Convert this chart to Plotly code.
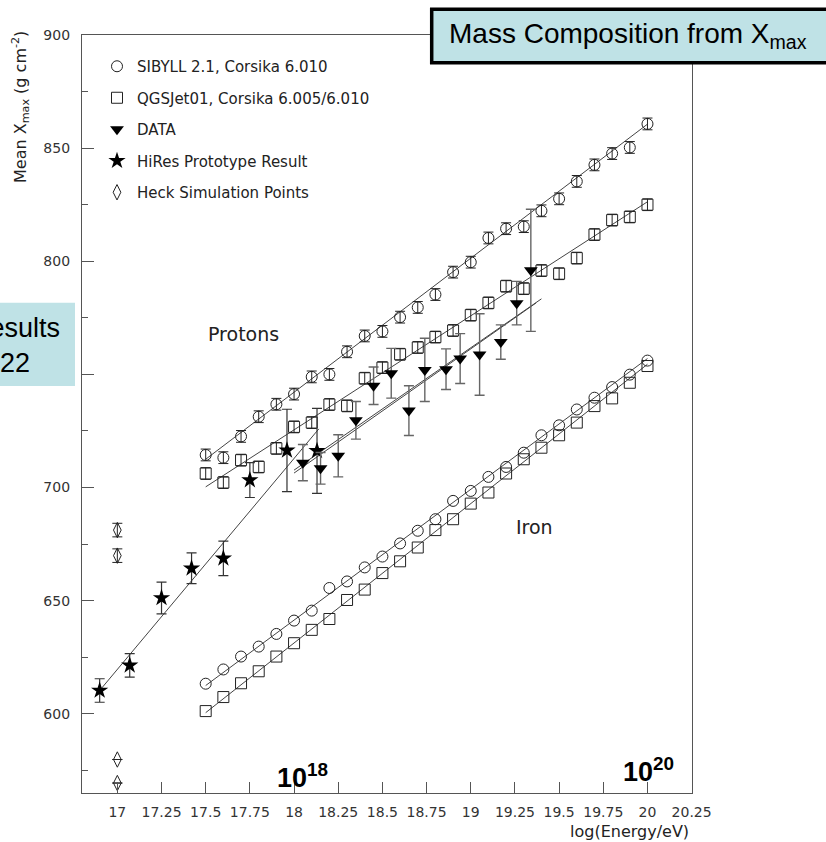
import plotly.graph_objects as go

# ---------------- data ----------------
ENERGY = [17.5, 17.6, 17.7, 17.8, 17.9, 18.0, 18.1, 18.2, 18.3, 18.4, 18.5, 18.6, 18.7,
          18.8, 18.9, 19.0, 19.1, 19.2, 19.3, 19.4, 19.5, 19.6, 19.7, 19.8, 19.9, 20.0]
SIBYLL_P = [714.4, 713.2, 722.6, 731.3, 736.8, 741.3, 748.9, 750.0, 760.0, 767.0, 769.0, 775.3, 779.6,
            785.3, 795.2, 799.6, 810.3, 814.4, 815.3, 822.3, 827.6, 835.3, 842.6, 847.6, 850.3, 860.7]
SIBYLL_P_ERR = [2.6, 2.6, 2.6, 2.6, 2.6, 2.6, 2.6, 2.6, 2.6, 2.6, 2.6, 2.6, 2.6,
                2.6, 2.6, 2.6, 2.6, 2.6, 2.6, 2.6, 2.6, 2.6, 2.6, 2.6, 2.6, 2.6]
QGS_P = [706.2, 702.2, 712.1, 709.1, 717.3, 726.8, 728.7, 736.7, 736.1, 748.3, 753.0, 758.9, 761.9,
         766.5, 769.4, 776.2, 781.6, 789.0, 787.9, 795.9, 794.5, 801.4, 811.8, 818.2, 819.6, 825.0]
QGS_P_ERR = [2.6, 2.6, 2.6, 2.6, 2.6, 2.6, 2.6, 2.6, 2.6, 2.6, 2.6, 2.6, 2.6,
             2.6, 2.6, 2.6, 2.6, 2.6, 2.6, 2.6, 2.6, 2.6, 2.6, 2.6, 2.6, 2.6]
SIBYLL_FE = [613.3, 619.6, 625.3, 629.7, 635.3, 641.2, 645.6, 655.6, 658.5, 664.7, 669.5, 675.3, 680.9,
             686.0, 694.1, 698.5, 704.7, 709.1, 715.4, 723.1, 727.5, 734.5, 739.7, 744.4, 749.9, 756.1]
QGS_FE = [601.2, 607.4, 613.5, 618.8, 625.3, 631.2, 637.1, 641.9, 650.3, 654.9, 662.2, 667.4, 673.5,
          681.2, 686.0, 692.9, 697.8, 706.2, 712.5, 717.6, 723.1, 728.7, 736.0, 739.4, 746.3, 753.7]

DATA_X = [18.05, 18.15, 18.25, 18.35, 18.45, 18.55, 18.65, 18.74, 18.86, 18.94, 19.05, 19.17, 19.26, 19.34]
DATA_Y = [711, 708.5, 714, 729.7, 745, 750.5, 734, 752, 752.3, 757, 758.8, 764.3, 781.5, 796]
DATA_ERR = [8, 7, 9.3, 8.3, 8.3, 11, 11, 14, 9, 11, 18, 7.6, 9.6, 27]

HIRES_X = [16.90, 17.07, 17.25, 17.42, 17.60, 17.75, 17.96, 18.13]
HIRES_Y = [610.3, 621.4, 651.2, 664.3, 668.7, 703.3, 716.4, 716.2]
HIRES_ERR = [5.2, 5.2, 7.0, 6.8, 7.6, 7.7, 18.2, 18.8]

HECK_X = [17.0, 17.0, 17.0, 17.0]
HECK_Y = [681.2, 669.9, 579.8, 569.4]
HECK_ERR = [3.0, 3.0, 0.0, 0.0]

# fitted straight lines (end points)
FIT_SIBYLL_P_X, FIT_SIBYLL_P_Y = [17.5, 20.0], [712.5, 860.6]
FIT_QGS_P_X, FIT_QGS_P_Y = [17.5, 20.0], [700.3, 826.3]
FIT_SIBYLL_FE_X, FIT_SIBYLL_FE_Y = [17.5, 20.0], [612.5, 757.0]
FIT_QGS_FE_X, FIT_QGS_FE_Y = [17.5, 20.0], [600.5, 754.5]
FIT_HIRES_X, FIT_HIRES_Y = [16.9, 18.14], [610.3, 725.9]
FIT_DATA_A_X, FIT_DATA_A_Y = [18.0, 19.40], [707.7, 783.4]
FIT_DATA_B_X, FIT_DATA_B_Y = [18.0, 19.37], [706.4, 781.6]

X_TICKS = [17, 17.25, 17.5, 17.75, 18, 18.25, 18.5, 18.75, 19, 19.25, 19.5, 19.75, 20, 20.25]
X_TICK_TEXT = ["17", "17.25", "17.5", "17.75", "18", "18.25", "18.5", "18.75",
               "19", "19.25", "19.5", "19.75", "20", "20.25"]

LEGEND_NAMES = ["SIBYLL 2.1, Corsika 6.010", "QGSJet01, Corsika 6.005/6.010", "DATA",
                "HiRes Prototype Result", "Heck Simulation Points"]

# ---------------- layout geometry ----------------
W, H = 826, 842
L, R, T, B = 82, 134, 35, 49
PW, PH = W - L - R, H - T - B


def px(xp):
    return (xp - L) / PW


def py(yp):
    return (H - B - yp) / PH


INK = "#222222"
LINE = "#444444"
ERRC = "#666666"
BLUE = "#bfe2e6"
FONT = "DejaVu Sans"

fig = go.Figure()


def fit(xs, ys):
    fig.add_trace(go.Scatter(x=xs, y=ys, mode="lines", line=dict(color=LINE, width=1),
                             showlegend=False, hoverinfo="skip"))


for fx, fy in [(FIT_SIBYLL_P_X, FIT_SIBYLL_P_Y), (FIT_QGS_P_X, FIT_QGS_P_Y),
               (FIT_SIBYLL_FE_X, FIT_SIBYLL_FE_Y), (FIT_QGS_FE_X, FIT_QGS_FE_Y),
               (FIT_HIRES_X, FIT_HIRES_Y), (FIT_DATA_A_X, FIT_DATA_A_Y),
               (FIT_DATA_B_X, FIT_DATA_B_Y)]:
    fit(fx, fy)

open_circle = dict(symbol="circle-open", size=11, color=INK, line=dict(width=1, color=INK))
open_square = dict(symbol="square-open", size=11, color=INK, line=dict(width=1, color=INK))
tri = dict(symbol="triangle-down", size=12, color="black", line=dict(width=0))
star = dict(symbol="star", size=13, color="black", line=dict(width=0))
diam = dict(symbol="diamond-tall-open", size=11, color=INK, line=dict(width=1, color=INK))

fig.add_trace(go.Scatter(x=ENERGY, y=SIBYLL_P, mode="markers", marker=open_circle, showlegend=False,
                         error_y=dict(type="data", array=SIBYLL_P_ERR, color=INK, thickness=1, width=5)))
fig.add_trace(go.Scatter(x=ENERGY, y=QGS_P, mode="markers", marker=open_square, showlegend=False,
                         error_y=dict(type="data", array=QGS_P_ERR, color=INK, thickness=1, width=5)))
fig.add_trace(go.Scatter(x=ENERGY, y=SIBYLL_FE, mode="markers", marker=open_circle, showlegend=False))
fig.add_trace(go.Scatter(x=ENERGY, y=QGS_FE, mode="markers", marker=open_square, showlegend=False))
fig.add_trace(go.Scatter(x=HECK_X, y=HECK_Y, mode="markers", marker=diam, showlegend=False,
                         error_y=dict(type="data", array=HECK_ERR, color=INK, thickness=1, width=5)))
fig.add_trace(go.Scatter(x=HIRES_X, y=HIRES_Y, mode="markers", marker=star, showlegend=False,
                         error_y=dict(type="data", array=HIRES_ERR, color="#333333", thickness=1.2, width=5)))
fig.add_trace(go.Scatter(x=DATA_X, y=DATA_Y, mode="markers", marker=tri, showlegend=False,
                         error_y=dict(type="data", array=DATA_ERR, color=ERRC, thickness=1.4, width=5)))

# legend-only traces
for name, mk in zip(LEGEND_NAMES, [open_circle, open_square, tri, star, diam]):
    fig.add_trace(go.Scatter(x=[None], y=[None], mode="markers", marker=mk, name=name,
                             legendgroup=name, showlegend=True))

axis_common = dict(showline=True, linecolor="#555555", linewidth=1.3, mirror=True,
                   ticks="inside", tickcolor="#555555", showgrid=False, zeroline=False,
                   tickfont=dict(family=FONT, size=14, color="#333333"))

fig.update_layout(
    width=W, height=H,
    margin=dict(l=L, r=R, t=T, b=B),
    paper_bgcolor="white", plot_bgcolor="white",
    xaxis=dict(range=[16.8, 20.252], tickvals=X_TICKS, ticktext=X_TICK_TEXT, ticklen=11,
               ticklabelstandoff=6, **axis_common),
    yaxis=dict(range=[565, 900], tick0=600, dtick=50, ticklen=12, ticklabelstandoff=8,
               minor=dict(ticks="inside", ticklen=6, dtick=25, tickcolor="#555555"),
               **axis_common),
    legend=dict(x=px(97), y=py(50), xanchor="left", yanchor="top", bgcolor="rgba(0,0,0,0)",
                font=dict(family=FONT, size=15, color=INK), tracegroupgap=9,
                itemsizing="trace"),
    showlegend=True,
)

shapes = [
    dict(type="rect", xref="paper", yref="paper", x0=px(-90), x1=px(75), y0=py(386), y1=py(302.7),
         fillcolor=BLUE, line=dict(width=0), layer="above"),
    dict(type="rect", xref="paper", yref="paper", x0=px(431.7), x1=px(840), y0=py(62.7), y1=py(9.3),
         fillcolor=BLUE, line=dict(width=3.5, color="black"), layer="above"),
]
fig.update_layout(shapes=shapes)

ann = [
    dict(text="Mass Composition from X<sub>max</sub>", x=px(447), y=py(36), xanchor="left",
         yanchor="middle", font=dict(family="Liberation Sans", size=28, color="black")),
    dict(text="Results<br>22", x=px(15), y=py(345), xanchor="center", yanchor="middle", align="center",
         font=dict(family="Liberation Sans", size=27, color="black")),
    dict(text="Protons", x=px(244), y=py(334), xanchor="center", yanchor="middle",
         font=dict(family=FONT, size=19, color=INK)),
    dict(text="Iron", x=px(534), y=py(527), xanchor="center", yanchor="middle",
         font=dict(family=FONT, size=19, color=INK)),
    dict(text="<b>10<sup>18</sup></b>", x=px(302), y=py(795), xanchor="center", yanchor="bottom",
         font=dict(family="Liberation Sans", size=27, color="black")),
    dict(text="<b>10<sup>20</sup></b>", x=px(648), y=py(789), xanchor="center", yanchor="bottom",
         font=dict(family="Liberation Sans", size=27, color="black")),
    dict(text="log(Energy/eV)", x=px(691), y=py(832), xanchor="right", yanchor="middle",
         font=dict(family=FONT, size=16, color=INK)),
    dict(text="Mean X<sub>max</sub> (g cm<sup>-2</sup>)", x=px(20), y=py(29), xanchor="center",
         yanchor="top", textangle=-90, font=dict(family=FONT, size=16, color=INK)),
]
for a in ann:
    a.update(xref="paper", yref="paper", showarrow=False)
fig.update_layout(annotations=ann)

fig.write_html("out.html", config={"displayModeBar": False},
               post_script="document.body.style.margin='0px';document.body.style.overflow='hidden';")
